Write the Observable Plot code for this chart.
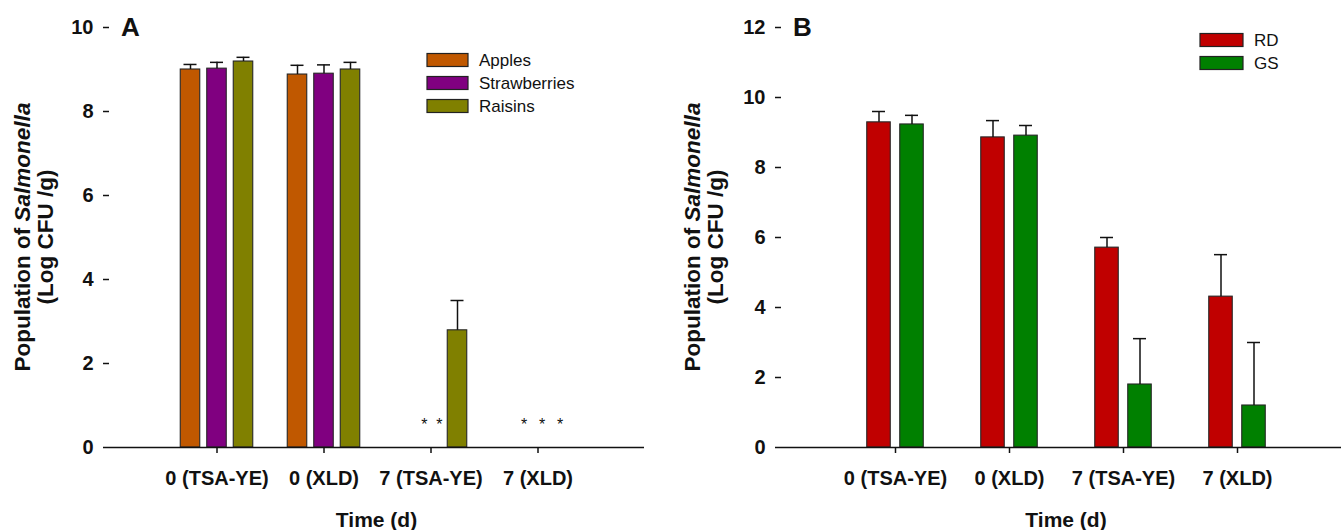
<!DOCTYPE html>
<html><head><meta charset="utf-8">
<script src="https://cdn.jsdelivr.net/npm/d3@7"></script>
<script src="https://cdn.jsdelivr.net/npm/@observablehq/plot@0.6"></script>
<style>
html,body{margin:0;padding:0;background:#fff;overflow:hidden;width:1341px;height:530px}
#wrap{position:relative;width:1341px;height:530px;overflow:hidden}
#a{position:absolute;left:0;top:0;width:670px;height:530px}
#b{position:absolute;left:670px;top:0;width:681px;height:530px}
#wrap svg{max-width:none !important}
</style></head><body><div id="wrap"><div id="a"></div><div id="b"></div></div>
<script>
// ---------- data ----------
const categories = ["0 (TSA-YE)", "0 (XLD)", "7 (TSA-YE)", "7 (XLD)"];

// Panel A
const seriesA = ["Apples", "Strawberries", "Raisins"];
const colorsA = ["#C05800", "#800080", "#808000"];
const apples = [9.00, 8.88, 0, 0];
const applesErr = [0.12, 0.22, 0, 0];
const strawberries = [9.02, 8.90, 0, 0];
const strawberriesErr = [0.15, 0.21, 0, 0];
const raisins = [9.19, 9.00, 2.79, 0];
const raisinsErr = [0.10, 0.17, 0.71, 0];
const notDetectedA = [
  {category: "7 (TSA-YE)", label: "* *"},
  {category: "7 (XLD)", label: "* * *"}
];
const yTicksA = [0, 2, 4, 6, 8, 10];

// Panel B
const seriesB = ["RD", "GS"];
const colorsB = ["#C00000", "#008000"];
const rd = [9.29, 8.86, 5.71, 4.31];
const rdErr = [0.31, 0.48, 0.29, 1.20];
const gs = [9.23, 8.91, 1.80, 1.20];
const gsErr = [0.26, 0.29, 1.31, 1.80];
const yTicksB = [0, 2, 4, 6, 8, 10, 12];

// ---------- drawing ----------
const FONT = "'Liberation Sans', Arial, Helvetica, sans-serif";
const INK = "#111111";

function panel(o) {
  const W = o.width, H = 530, mt = 27, mb = 83;
  const step = (W - o.ml - o.mr) / (categories.length + 1);
  const inset = (step - o.barWidth) / 2;
  const capInset = (step - 13) / 2;
  const marks = [];
  o.values.forEach((vals, i) => {
    const data = categories.map((c, j) => ({category: c, value: vals[j], err: o.errors[i][j]}))
      .filter(d => d.value > 0);
    marks.push(Plot.barY(data, {x: "category", y: "value", fill: o.colors[i], stroke: "#262626",
      strokeWidth: 1.1, dx: o.offsets[i], insetLeft: inset, insetRight: inset}));
    marks.push(Plot.ruleX(data, {x: "category", y1: "value", y2: d => d.value + d.err,
      dx: o.offsets[i], stroke: INK, strokeWidth: 1.5}));
    marks.push(Plot.tickY(data, {x: "category", y: d => d.value + d.err, dx: o.offsets[i],
      insetLeft: capInset, insetRight: capInset, stroke: INK, strokeWidth: 1.5}));
  });
  if (o.annotations) {
    marks.push(Plot.text(o.annotations, {x: "category", text: "label", frameAnchor: "bottom",
      dy: -18, fontSize: 16, fontWeight: "normal", fill: INK}));
  }
  marks.push(Plot.ruleY([0], {stroke: INK, strokeWidth: 1.5}));
  marks.push(Plot.axisY({ticks: o.yTicks, tickSize: 6, tickPadding: 10, label: null, line: true,
    stroke: INK, strokeWidth: 1.5, fill: INK}));
  marks.push(Plot.axisX({tickSize: 6, tickPadding: 17, label: null, stroke: INK, strokeWidth: 1.5, fill: INK}));

  const svgEl = Plot.plot({
    width: W, height: H,
    marginLeft: o.ml, marginRight: o.mr, marginTop: mt, marginBottom: mb,
    style: {fontFamily: FONT, fontSize: "20px", fontWeight: "bold", background: "transparent",
      color: INK, overflow: "visible", maxWidth: "none"},
    x: {type: "band", domain: categories, paddingInner: 0, paddingOuter: 0.5},
    y: {domain: [0, o.yTicks[o.yTicks.length - 1]]},
    marks
  });
  svgEl.style.maxWidth = "none";
  svgEl.setAttribute("width", W);
  svgEl.setAttribute("height", H);

  const svg = d3.select(svgEl);
  // asterisk spacing
  svg.selectAll("text").filter(function () { return this.textContent.startsWith("*"); })
    .each(function () {
      const n = this.textContent.split("*").length - 1;
      d3.select(this).style("letter-spacing", n === 2 ? "2.2px" : "3.7px")
        .attr("dx", n === 2 ? 2 : 6);
    });
  // panel letter
  svg.append("text").attr("x", o.ml + 12).attr("y", 36).text(o.letter).attr("text-anchor", "start")
    .attr("font-size", 26).attr("font-weight", "bold").attr("fill", INK).attr("font-family", FONT);
  // y title
  const g = svg.append("g").attr("transform", `translate(30,${(mt + H - mb) / 2}) rotate(-90)`)
    .attr("font-size", 22.5).attr("font-weight", "bold").attr("fill", INK).attr("text-anchor", "middle")
    .attr("font-family", FONT);
  const t1 = g.append("text").attr("x", 0).attr("y", 0);
  t1.append("tspan").text("Population of ");
  t1.append("tspan").attr("font-style", "italic").text("Salmonella");
  g.append("text").attr("x", 0).attr("y", 23).text("(Log CFU /g)");
  // x title
  svg.append("text").attr("x", (o.ml + W - o.mr) / 2).attr("y", 527).attr("text-anchor", "middle")
    .attr("font-size", 21).attr("font-weight", "bold").attr("fill", INK).attr("font-family", FONT)
    .text("Time (d)");
  // legend
  const lg = svg.append("g").attr("font-family", FONT).attr("font-size", 17).attr("font-weight", "normal")
    .attr("text-anchor", "start");
  o.series.forEach((s, i) => {
    const cy = o.legY + i * 23;
    lg.append("rect").attr("x", o.legX).attr("y", cy - 6.5).attr("width", o.legW).attr("height", 13)
      .attr("fill", o.colors[i]).attr("stroke", "#222").attr("stroke-width", 1.2);
    lg.append("text").attr("x", o.legX + o.legW + 11).attr("y", cy).attr("dy", "0.36em")
      .attr("text-anchor", "start").attr("fill", INK).text(s);
  });
  return svgEl;
}

document.getElementById("a").appendChild(panel({
  width: 670, ml: 109, mr: 26, barWidth: 19.5, offsets: [-26.5, 0, 26.5],
  values: [apples, strawberries, raisins], errors: [applesErr, strawberriesErr, raisinsErr],
  series: seriesA, colors: colorsA, yTicks: yTicksA, letter: "A", annotations: notDetectedA,
  legX: 427, legY: 60, legW: 41
}));
document.getElementById("b").appendChild(panel({
  width: 681, ml: 111, mr: 0, barWidth: 23.5, offsets: [-16.5, 16.5],
  values: [rd, gs], errors: [rdErr, gsErr],
  series: seriesB, colors: colorsB, yTicks: yTicksB, letter: "B",
  legX: 530, legY: 40, legW: 43
}));
</script></body></html>
